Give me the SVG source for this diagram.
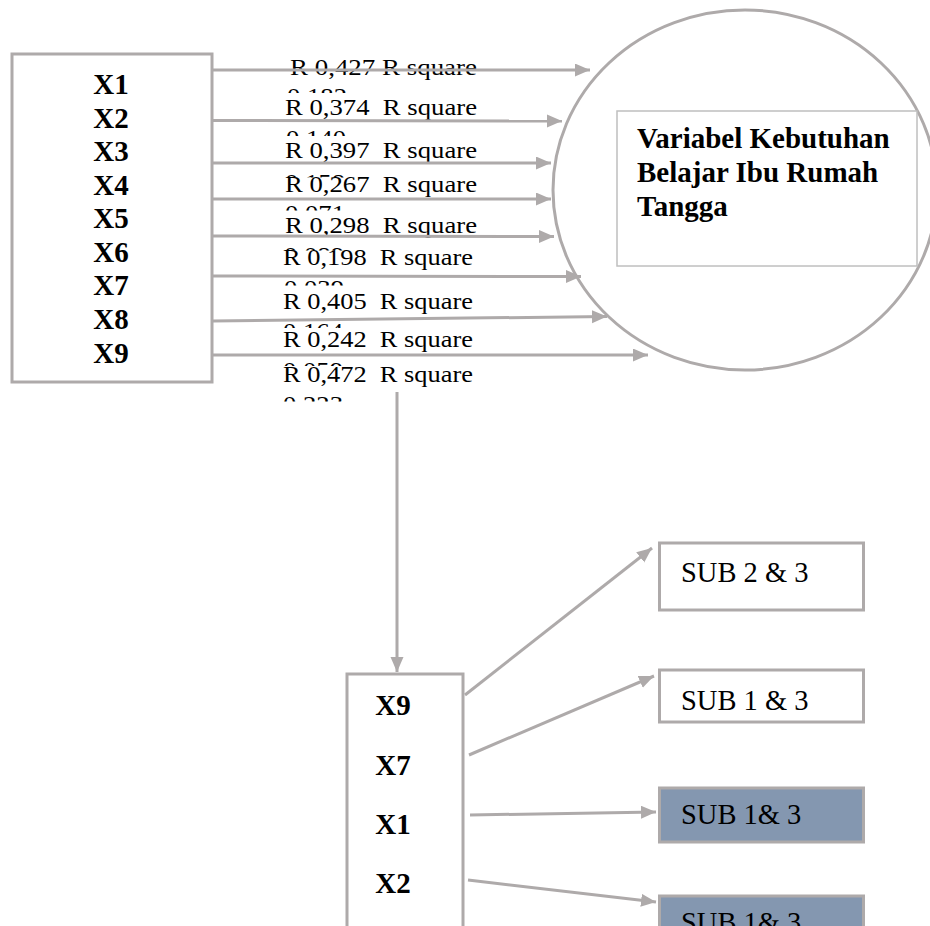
<svg xmlns="http://www.w3.org/2000/svg" width="930" height="926" viewBox="0 0 930 926">
<defs>
<style>
.box{fill:#fff;stroke:#AEAAAA;stroke-width:3}
.blue{fill:#8497B0;stroke:#AEAAAA;stroke-width:3}
.thin{fill:#fff;stroke:#BFBFBF;stroke-width:1.5}
.conn{stroke:#AEAAAA;stroke-width:3;fill:none;marker-end:url(#ah)}
.xl{font-family:"Liberation Serif","Times New Roman",serif;font-weight:bold;font-size:29px;text-anchor:middle;fill:#000}
.tl{font-family:"Liberation Serif","Times New Roman",serif;font-weight:bold;font-size:29px;fill:#000}
.rl{font-family:"Liberation Serif","Times New Roman",serif;font-size:23px;fill:#000}
.sub{font-family:"Liberation Serif","Times New Roman",serif;font-size:28.5px;fill:#000}
</style>
<marker id="ah" markerUnits="userSpaceOnUse" markerWidth="16" markerHeight="14" refX="15" refY="6.5" orient="auto">
<path d="M0,0 L15,6.5 L0,13 z" fill="#AEAAAA"/>
</marker>
<clipPath id="c1"><rect x="270" y="80" width="120" height="13"/></clipPath>
<clipPath id="c2"><rect x="270" y="122" width="120" height="14"/></clipPath>
<clipPath id="c3"><rect x="270" y="166" width="120" height="11.5"/></clipPath>
<clipPath id="c4"><rect x="270" y="197" width="120" height="13.5"/></clipPath>
<clipPath id="c5"><rect x="270" y="239" width="120" height="11.5"/></clipPath>
<clipPath id="c6"><rect x="270" y="272" width="120" height="13.5"/></clipPath>
<clipPath id="c7"><rect x="270" y="315" width="120" height="13"/></clipPath>
<clipPath id="c8"><rect x="270" y="354" width="120" height="12"/></clipPath>
<clipPath id="c9"><rect x="270" y="388" width="120" height="13.5"/></clipPath>
</defs>
<rect x="0" y="0" width="930" height="926" fill="#fff"/>

<g id="node-x-list">
<rect class="box" x="12" y="54" width="200" height="328"/>
<text class="xl" x="111" y="94">X1</text>
<text class="xl" x="111" y="127.5">X2</text>
<text class="xl" x="111" y="161">X3</text>
<text class="xl" x="111" y="194.7">X4</text>
<text class="xl" x="111" y="228.2">X5</text>
<text class="xl" x="111" y="261.8">X6</text>
<text class="xl" x="111" y="295.3">X7</text>
<text class="xl" x="111" y="328.9">X8</text>
<text class="xl" x="111" y="362.5">X9</text>
</g>

<g id="node-variabel">
<ellipse class="box" cx="745" cy="190" rx="192" ry="180"/>
<rect class="thin" x="617" y="111" width="300" height="155"/>
<text class="tl" x="637" y="148.3">Variabel Kebutuhan</text>
<text class="tl" x="637" y="182">Belajar Ibu Rumah</text>
<text class="tl" x="637" y="215.5">Tangga</text>
</g>

<g id="labels-r">
<text class="rl" x="290" y="75" textLength="187" lengthAdjust="spacingAndGlyphs">R 0,427 R square</text>
<text class="rl" x="287" y="103.5" textLength="60" lengthAdjust="spacingAndGlyphs" clip-path="url(#c1)">0,182</text>
<text class="rl" x="285" y="115" textLength="192" lengthAdjust="spacingAndGlyphs" xml:space="preserve">R 0,374  R square</text>
<text class="rl" x="286" y="145.5" textLength="60" lengthAdjust="spacingAndGlyphs" clip-path="url(#c2)">0,140</text>
<text class="rl" x="285" y="158.3" textLength="192" lengthAdjust="spacingAndGlyphs" xml:space="preserve">R 0,397  R square</text>
<text class="rl" x="285" y="191.7" textLength="192" lengthAdjust="spacingAndGlyphs" xml:space="preserve">R 0,267  R square</text>
<text class="rl" x="285" y="189.5" textLength="60" lengthAdjust="spacingAndGlyphs" clip-path="url(#c3)">0,158</text>
<text class="rl" x="285" y="220.5" textLength="60" lengthAdjust="spacingAndGlyphs" clip-path="url(#c4)">0,071</text>
<text class="rl" x="285" y="233.3" textLength="192" lengthAdjust="spacingAndGlyphs" xml:space="preserve">R 0,298  R square</text>
<text class="rl" x="283" y="265" textLength="190" lengthAdjust="spacingAndGlyphs" xml:space="preserve">R 0,198  R square</text>
<text class="rl" x="284" y="262.5" textLength="60" lengthAdjust="spacingAndGlyphs" clip-path="url(#c5)">0,089</text>
<text class="rl" x="284" y="295.5" textLength="60" lengthAdjust="spacingAndGlyphs" clip-path="url(#c6)">0,039</text>
<text class="rl" x="283" y="309" textLength="190" lengthAdjust="spacingAndGlyphs" xml:space="preserve">R 0,405  R square</text>
<text class="rl" x="283" y="338.5" textLength="60" lengthAdjust="spacingAndGlyphs" clip-path="url(#c7)">0,164</text>
<text class="rl" x="283" y="347.3" textLength="190" lengthAdjust="spacingAndGlyphs" xml:space="preserve">R 0,242  R square</text>
<text class="rl" x="283" y="377.5" textLength="60" lengthAdjust="spacingAndGlyphs" clip-path="url(#c8)">0,059</text>
<text class="rl" x="283" y="381.7" textLength="190" lengthAdjust="spacingAndGlyphs" xml:space="preserve">R 0,472  R square</text>
<text class="rl" x="283" y="411.5" textLength="60" lengthAdjust="spacingAndGlyphs" clip-path="url(#c9)">0,223</text>
</g>

<g id="node-x-selected">
<rect class="box" x="347" y="674" width="116" height="300"/>
<text class="xl" x="393" y="715">X9</text>
<text class="xl" x="393" y="775">X7</text>
<text class="xl" x="393" y="834">X1</text>
<text class="xl" x="393" y="893">X2</text>
</g>

<g id="node-sub-2-3">
<rect class="box" x="659.5" y="543" width="204" height="67"/>
<text class="sub" x="681" y="582.3">SUB 2 &amp; 3</text>
</g>
<g id="node-sub-1-3">
<rect class="box" x="659.5" y="670" width="204" height="52"/>
<text class="sub" x="681" y="710">SUB 1 &amp; 3</text>
</g>
<g id="node-sub-1-3-b">
<rect class="blue" x="659.5" y="788" width="204" height="54"/>
<text class="sub" x="681" y="824">SUB 1&amp; 3</text>
</g>
<g id="node-sub-1-3-c">
<rect class="blue" x="659.5" y="896" width="204" height="60"/>
<text class="sub" x="681" y="932">SUB 1&amp; 3</text>
</g>

<g id="connectors">
<line class="conn" x1="213" y1="70" x2="590" y2="70"/>
<line class="conn" x1="213" y1="120.5" x2="562" y2="121"/>
<line class="conn" x1="213" y1="163" x2="551" y2="163"/>
<line class="conn" x1="213" y1="199" x2="551" y2="199"/>
<line class="conn" x1="213" y1="236" x2="554" y2="236.5"/>
<line class="conn" x1="213" y1="276" x2="581" y2="276.5"/>
<line class="conn" x1="213" y1="321" x2="607" y2="316.5"/>
<line class="conn" x1="213" y1="355" x2="648" y2="355"/>
<line class="conn" x1="397" y1="392" x2="397" y2="672"/>
<line class="conn" x1="465" y1="695" x2="652" y2="548"/>
<line class="conn" x1="469" y1="755" x2="654" y2="676"/>
<line class="conn" x1="470" y1="815" x2="656" y2="812"/>
<line class="conn" x1="468" y1="880" x2="656" y2="902"/>
</g>
</svg>
